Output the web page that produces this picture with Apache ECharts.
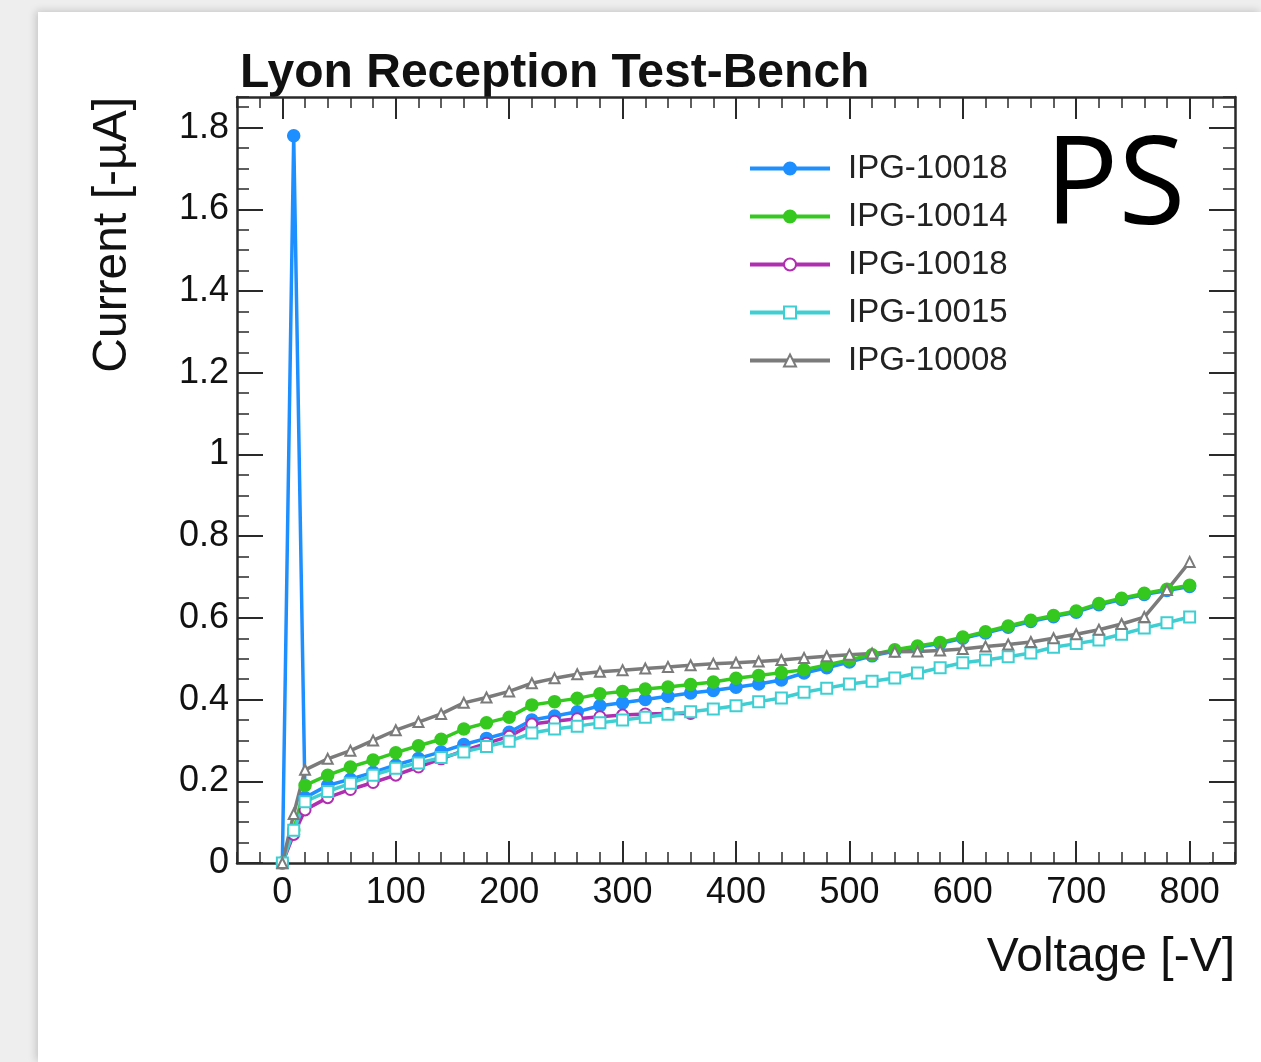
<!DOCTYPE html>
<html>
<head>
<meta charset="utf-8">
<script src="https://cdn.jsdelivr.net/npm/echarts@6/dist/echarts.min.js"></script>
<style>
  html, body { margin:0; padding:0; background:#eeeeee; width:1261px; height:1062px; overflow:hidden; }
  #panel { position:absolute; left:38px; top:12px; width:1223px; height:1050px; background:#fff; box-shadow: -2px -1px 8px rgba(0,0,0,0.18); }
  #chart { position:absolute; left:0; top:0; width:1261px; height:1062px; }
</style>
</head>
<body>
<div id="panel"></div>
<div id="chart"></div>
<script>
// ---- data ----
// legend labels (two runs share the label IPG-10018; a "#n" suffix keeps them apart and is hidden in the legend)
const seriesNames = ['IPG-10018#1', 'IPG-10014', 'IPG-10018#2', 'IPG-10015', 'IPG-10008'];

const voltageFull = [0, 10, 20, 40, 60, 80, 100, 120, 140, 160, 180, 200, 220, 240, 260, 280, 300, 320, 340, 360,
  380, 400, 420, 440, 460, 480, 500, 520, 540, 560, 580, 600, 620, 640, 660, 680, 700, 720, 740, 760, 780, 800];
const voltageShort = [0, 10, 20, 40, 60, 80, 100, 120, 140, 160, 180, 200, 220, 240, 260, 280, 300, 320, 340, 360];

const currentBlue = [0, 1.78, 0.16, 0.19, 0.205, 0.222, 0.24, 0.256, 0.272, 0.29, 0.305, 0.32, 0.35, 0.36, 0.37, 0.385,
  0.392, 0.40, 0.408, 0.416, 0.422, 0.43, 0.438, 0.448, 0.465, 0.478, 0.492, 0.507, 0.519, 0.528, 0.537, 0.55, 0.563,
  0.577, 0.591, 0.603, 0.614, 0.632, 0.645, 0.657, 0.667, 0.677];
const currentGreen = [0, 0.08, 0.19, 0.215, 0.235, 0.252, 0.27, 0.287, 0.303, 0.328, 0.343, 0.357, 0.387, 0.395, 0.403,
  0.414, 0.42, 0.426, 0.431, 0.437, 0.443, 0.452, 0.459, 0.466, 0.473, 0.485, 0.497, 0.51, 0.522, 0.531, 0.54, 0.553,
  0.566, 0.58, 0.594, 0.606, 0.617, 0.635, 0.648, 0.66, 0.67, 0.68];
const currentPurple = [0, 0.07, 0.13, 0.16, 0.18, 0.197, 0.215, 0.235, 0.255, 0.275, 0.293, 0.31, 0.34, 0.347, 0.353,
  0.358, 0.362, 0.365, 0.366, 0.366];
const currentCyan = [0, 0.08, 0.15, 0.175, 0.195, 0.215, 0.232, 0.245, 0.258, 0.272, 0.285, 0.298, 0.318, 0.328, 0.335,
  0.343, 0.35, 0.357, 0.364, 0.37, 0.377, 0.385, 0.395, 0.404, 0.418, 0.428, 0.438, 0.445, 0.453, 0.465, 0.478, 0.49,
  0.497, 0.505, 0.514, 0.528, 0.537, 0.546, 0.56, 0.575, 0.588, 0.602];
const currentGray = [0, 0.12, 0.228, 0.255, 0.275, 0.30, 0.325, 0.345, 0.365, 0.392, 0.405, 0.42, 0.44, 0.452, 0.462,
  0.468, 0.472, 0.476, 0.48, 0.484, 0.488, 0.49, 0.493, 0.497, 0.502, 0.506, 0.51, 0.513, 0.517, 0.518, 0.52, 0.524,
  0.53, 0.535, 0.541, 0.55, 0.56, 0.571, 0.585, 0.602, 0.668, 0.737];

const xTickLabels = [0, 100, 200, 300, 400, 500, 600, 700, 800];
const yTickLabels = [0, 0.2, 0.4, 0.6, 0.8, 1, 1.2, 1.4, 1.6, 1.8];

// ---- chart ----
const X_MIN = -40, X_MAX = 840, Y_MIN = 0, Y_MAX = 1.875;
const FONT = 'Liberation Sans, Arial, Helvetica, sans-serif';
const FRAME = '#2a2a2a';

function pairs(xs, ys) { return xs.map((x, i) => [x, ys[i]]); }

function xAx(pos, major, showLine) {
  const a = {
    type: 'value', min: X_MIN, max: X_MAX, position: pos, offset: 0,
    splitLine: { show: false },
    axisLine: { show: showLine, onZero: false, lineStyle: { color: FRAME, width: 2.5 } },
    axisLabel: { show: false }
  };
  if (major) {
    a.axisTick = { show: true, inside: true, length: 22, customValues: xTickLabels, lineStyle: { color: FRAME, width: 2 } };
  } else {
    a.interval = 20;
    a.axisTick = { show: true, inside: true, length: 11, lineStyle: { color: FRAME, width: 1.5 } };
  }
  return a;
}
function yAx(pos, major, showLine) {
  const a = {
    type: 'value', min: Y_MIN, max: Y_MAX, position: pos, offset: 0,
    splitLine: { show: false },
    axisLine: { show: showLine, onZero: false, lineStyle: { color: FRAME, width: 2.5 } },
    axisLabel: { show: false }
  };
  if (major) {
    a.axisTick = { show: true, inside: true, length: 26, customValues: yTickLabels, lineStyle: { color: FRAME, width: 2 } };
  } else {
    a.interval = 0.05;
    a.axisTick = { show: true, inside: true, length: 12, lineStyle: { color: FRAME, width: 1.5 } };
  }
  return a;
}

const xAxes = [xAx('bottom', false, true), xAx('bottom', true, false), xAx('top', false, true), xAx('top', true, false)];
xAxes[0].axisLabel = { show: true, customValues: xTickLabels, fontSize: 36, fontFamily: FONT, color: '#111', margin: 12,
  formatter: v => String(Math.round(v)) };
const yAxes = [yAx('left', false, true), yAx('left', true, false), yAx('right', false, true), yAx('right', true, false)];
yAxes[0].axisLabel = { show: true, customValues: yTickLabels, fontSize: 36, fontFamily: FONT, color: '#111', margin: 8,
  formatter: v => String(Math.round(v * 10) / 10) };

function mkSeries(name, data, color, symbol, size) {
  return {
    name: name, type: 'line', data: data, xAxisIndex: 0, yAxisIndex: 0,
    symbol: symbol, symbolSize: size, showSymbol: true, showAllSymbol: true,
    lineStyle: { color: color, width: 3.5 },
    itemStyle: { color: color, borderColor: color, borderWidth: 1.5 },
    emphasis: { disabled: true }, animation: false, clip: true
  };
}

const series = [
  mkSeries(seriesNames[0], pairs(voltageFull, currentBlue), '#1e8fff', 'circle', 12),
  mkSeries(seriesNames[1], pairs(voltageFull, currentGreen), '#35c91f', 'circle', 12),
  mkSeries(seriesNames[2], pairs(voltageShort, currentPurple), '#b02eb0', 'emptyCircle', 11),
  mkSeries(seriesNames[3], pairs(voltageFull, currentCyan), '#3fcfd2', 'emptyRect', 11),
  mkSeries(seriesNames[4], pairs(voltageFull, currentGray), '#7b7b7b', 'emptyTriangle', 10)
];

const chart = echarts.init(document.getElementById('chart'), null, { renderer: 'canvas' });
chart.setOption({
  backgroundColor: 'transparent',
  animation: false,
  grid: { left: 237, right: 26, top: 97, bottom: 199, containLabel: false },
  xAxis: xAxes,
  yAxis: yAxes,
  legend: {
    orient: 'vertical', left: 743, top: 147,
    itemWidth: 80, itemHeight: 15, itemGap: 15,
    selectedMode: false,
    lineStyle: { width: 4 },
    formatter: n => n.split('#')[0],
    textStyle: { fontSize: 33, fontFamily: FONT, color: '#222', padding: [0, 0, 0, 13] },
    data: seriesNames
  },
  series: series,
  graphic: [
    { type: 'text', left: 240, top: 50, silent: true,
      style: { text: 'Lyon Reception Test-Bench', font: 'bold 48px ' + FONT, fill: '#111' } },
    { type: 'text', x: 113, y: 97, rotation: Math.PI / 2, silent: true,
      style: { text: 'Current [-\u00B5A]', font: '48px ' + FONT, fill: '#111', align: 'right', verticalAlign: 'middle' } },
    { type: 'text', x: 1235, y: 958, silent: true,
      style: { text: 'Voltage [-V]', font: '48px ' + FONT, fill: '#111', align: 'right', verticalAlign: 'middle' } },
    { type: 'text', x: 1045, y: 189, silent: true,
      style: { text: 'PS', font: '122px "Open Sans", "Noto Sans", sans-serif', fill: '#000', align: 'left', verticalAlign: 'middle' } }
  ]
});
</script>
</body>
</html>
